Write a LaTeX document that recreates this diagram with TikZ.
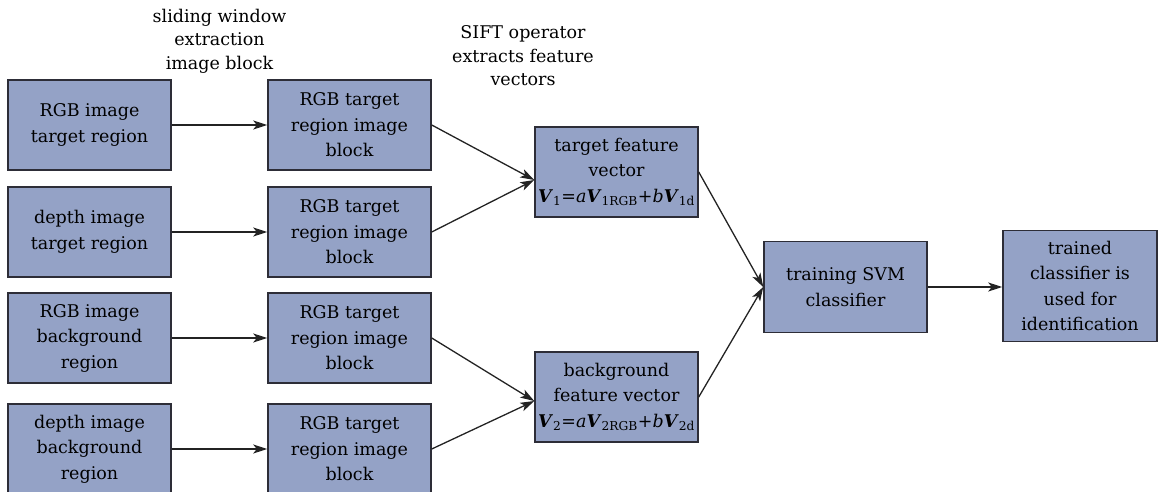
\documentclass[tikz,border=0pt]{standalone}
\usepackage{fontspec}
\setmainfont{DejaVu Serif}
\usetikzlibrary{arrows.meta}
\definecolor{boxfill}{RGB}{148,162,198}
\definecolor{boxline}{RGB}{45,45,55}
\definecolor{arrowcol}{RGB}{35,35,35}
\newcommand{\vb}{\textbf{\textit{V}}}
\begin{document}
\begin{tikzpicture}[x=1pt,y=-1pt,
  box/.style={draw=boxline,fill=boxfill,line width=1.5pt,minimum width=163pt,minimum height=90pt,
    inner sep=2pt,align=center,font=\fontsize{17.5}{25.5}\selectfont,text=black},
  lbl/.style={align=center,font=\fontsize{17.5}{23.5}\selectfont,text=black},
  arr/.style={draw=arrowcol,line width=1.3pt,-{Stealth[length=14pt,width=9pt,inset=3.5pt]}}]
\useasboundingbox (0,0) rectangle (1159,492);
% column 1
\node[box] (a1) at (89.5,125) {RGB image\\target region};
\node[box] (a2) at (89.5,232) {depth image\\target region};
\node[box] (a3) at (89.5,338) {RGB image\\background\\region};
\node[box] (a4) at (89.5,449) {depth image\\background\\region};
% column 2
\node[box] (b1) at (349.5,125) {RGB target\\region image\\block};
\node[box] (b2) at (349.5,232) {RGB target\\region image\\block};
\node[box] (b3) at (349.5,338) {RGB target\\region image\\block};
\node[box] (b4) at (349.5,449) {RGB target\\region image\\block};
% feature vectors
\node[box] (f1) at (616.5,172) {target feature\\vector\\\vb\textsubscript{1}=\textit{a}\vb\textsubscript{1RGB}+\textit{b}\vb\textsubscript{1d}};
\node[box] (f2) at (616.5,397) {background\\feature vector\\\vb\textsubscript{2}=\textit{a}\vb\textsubscript{2RGB}+\textit{b}\vb\textsubscript{2d}};
% classifier
\node[box,minimum height=91pt] (s) at (845.5,287) {training SVM\\classifier};
\node[box,minimum width=154pt,minimum height=111pt] (t) at (1080,286) {trained\\classifier is\\used for\\identification};
% header labels
\node[lbl] (h1) at (219.5,41) {sliding window\\extraction\\image block};
\node[lbl] (h2) at (523,56) {SIFT operator\\extracts feature\\vectors};
% connectors
\foreach \i in {1,2,3,4} {\draw[arr] (a\i) -- (b\i);}
\draw[arr] (b1.east) -- ([yshift=-8pt]f1.west);
\draw[arr] (b2.east) -- ([yshift=-8pt]f1.west);
\draw[arr] (b3.east) -- ([yshift=-4pt]f2.west);
\draw[arr] (b4.east) -- ([yshift=-4pt]f2.west);
\draw[arr] (f1.east) -- (s.west);
\draw[arr] (f2.east) -- (s.west);
\draw[arr] (s.east) -- (s.east -| t.west);
\end{tikzpicture}
\end{document}
